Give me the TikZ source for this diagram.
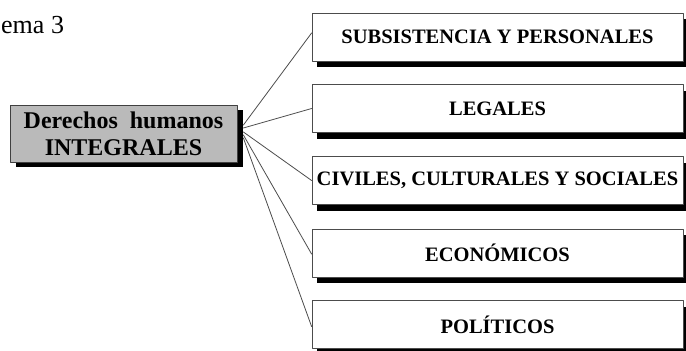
\documentclass[tikz,border=0pt]{standalone}
\usepackage{fontspec}
\setmainfont{Liberation Serif}
\usetikzlibrary{shadows}
\begin{document}
\begin{tikzpicture}[x=1pt, y=-1pt, line join=round, line cap=round,
	rama/.style={draw=black!70, line width=0.8pt, fill=white, minimum width=371pt, minimum height=48pt, inner sep=2pt,
		font=\fontsize{20.5}{24}\selectfont\bfseries,
		drop shadow={shadow xshift=5pt, shadow yshift=-6pt, fill=black, opacity=1}},
	centro/.style={draw=black!75, line width=0.8pt, fill=black!27, minimum width=227pt, minimum height=57pt, inner sep=2pt,
		align=center, font=\fontsize{24}{27}\selectfont\bfseries,
		drop shadow={shadow xshift=6pt, shadow yshift=-5pt, fill=black, opacity=1}},
	enlace/.style={draw=black!70, line width=0.8pt}]
	\clip (0,0) rectangle (686,351);
	\node[anchor=base west, inner sep=0pt, font=\fontsize{26}{30}\selectfont] (tit) at (1,33) {ema 3};
	\node[centro] (dh) at (123.5,133.5) {Derechos\hspace{12pt}humanos\\INTEGRALES};
	\node[rama] (r1) at (497.5,37) {SUBSISTENCIA Y PERSONALES};
	\node[rama] (r2) at (497.5,108.5) {LEGALES};
	\node[rama] (r3) at (497.5,180.5) {CIVILES, CULTURALES Y SOCIALES};
	\node[rama] (r4) at (497.5,253) {ECONÓMICOS};
	\node[rama] (r5) at (497.5,324.5) {POLÍTICOS};
	\foreach \i/\s/\t in {1/8.5/4,2/5.5/0,3/1.5/0,4/-1.5/-1,5/-4.5/-2}
		\draw[enlace] ([xshift=6pt,yshift=\s pt]dh.east) -- ([yshift=\t pt]r\i.west);
\end{tikzpicture}
\end{document}
